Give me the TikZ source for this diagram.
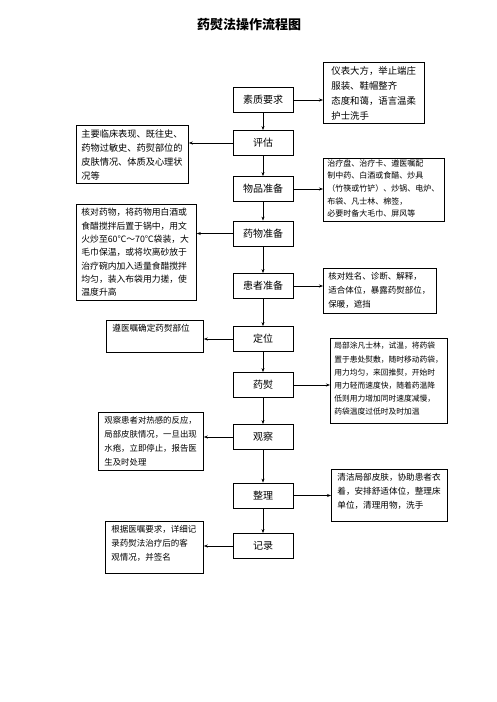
\documentclass[tikz,border=0pt]{standalone}
\usepackage{fontspec}
\newfontfamily\cjk{Noto Sans CJK SC}
\usetikzlibrary{arrows.meta}
\newcommand\stxt[5]{\parbox[c][#2][t]{#1}{\raggedright\fontsize{#3}{#4}\selectfont #5}}
\begin{document}
\begin{tikzpicture}[x=1pt,y=-1pt,
  every node/.style={font=\cjk},
  mainbox/.style={draw, line width=0.8pt, minimum width=60pt, minimum height=25pt, inner sep=0pt, font=\cjk\fontsize{10}{12}\selectfont},
  side/.style={draw, line width=0.8pt, inner xsep=5pt, inner ysep=4pt, anchor=north west, align=left},
  arr/.style={line width=0.8pt, -{Stealth[length=4pt,width=3pt]}}]
\useasboundingbox (0,0) rectangle (496,702);

\node (title) at (249,25) {\cjk\bfseries\fontsize{13}{15}\selectfont 药熨法操作流程图};

% main column
\node[mainbox] (q)  at (263,100)   {素质要求};
\node[mainbox] (pg) at (263,143)   {评估};
\node[mainbox] (wp) at (263,189)   {物品准备};
\node[mainbox] (yw) at (263,233.5) {药物准备};
\node[mainbox] (hz) at (263,286)   {患者准备};
\node[mainbox] (dw) at (263,339)   {定位};
\node[mainbox] (yy) at (263,385)   {药熨};
\node[mainbox] (gc) at (263,437)   {观察};
\node[mainbox] (zl) at (263,495.5) {整理};
\node[mainbox] (jl) at (263,546)   {记录};

% side boxes
\node[side, inner xsep=8pt] (r1) at (323,62) {\stxt{85pt}{53pt}{9.4}{15}{仪表大方，举止端庄\\服装、鞋帽整齐\\态度和蔼，语言温柔\\护士洗手}};
\node[side] (l1) at (76,125) {\stxt{102pt}{50pt}{9.2}{14}{主要临床表现、既往史、\\药物过敏史、药熨部位的\\皮肤情况、体质及心理状\\况等}};
\node[side, inner xsep=4pt, inner ysep=1pt] (r2) at (323,158) {\stxt{113pt}{61pt}{8}{12.6}{治疗盘、治疗卡、遵医嘱配\\制中药、白酒或食醋、炒具\\（竹筷或竹铲）、炒锅、电炉、\\布袋、凡士林、棉签，\\必要时备大毛巾、屏风等}};
\node[side] (l2) at (76,204) {\stxt{110pt}{88pt}{8.8}{13.3}{核对药物，将药物用白酒或\\食醋搅拌后置于锅中，用文\\火炒至60℃～70℃袋装，大\\毛巾保温，或将坎离砂放于\\治疗碗内加入适量食醋搅拌\\均匀，装入布袋用力搓，使\\温度升高}};
\node[side] (r3) at (323,268) {\stxt{103pt}{37pt}{8.5}{14}{核对姓名、诊断、解释，\\适合体位，暴露药熨部位，\\保暖，遮挡}};
\node[side, inner xsep=6pt] (l3) at (106,320) {\stxt{85pt}{24pt}{8.6}{14}{遵医嘱确定药熨部位}};
\node[side, inner xsep=4pt] (r4) at (330,338) {\stxt{109pt}{77pt}{7.75}{13.2}{局部涂凡士林，试温，将药袋\\置于患处熨敷，随时移动药袋，\\用力均匀，来回推熨，开始时\\用力轻而速度快，随着药温降\\低则用力增加同时速度减慢，\\药袋温度过低时及时加温}};
\node[side, inner xsep=6pt] (l4) at (98,412) {\stxt{93pt}{50pt}{8.4}{14}{观察患者对热感的反应，\\局部皮肤情况，一旦出现\\水疱，立即停止，报告医\\生及时处理}};
\node[side, inner xsep=6pt] (r5) at (331,469) {\stxt{104pt}{44pt}{8.6}{14}{清洁局部皮肤，协助患者衣\\着，安排舒适体位，整理床\\单位，清理用物，洗手}};
\node[side, inner xsep=6pt] (l5) at (105,521) {\stxt{86pt}{44pt}{8.5}{14}{根据医嘱要求，详细记\\录药熨法治疗后的客\\观情况，并签名}};

% vertical arrows
\draw[arr] (q.south)  -- (pg.north);
\draw[arr] (pg.south) -- (wp.north);
\draw[arr] (wp.south) -- (yw.north);
\draw[arr] (yw.south) -- (hz.north);
\draw[arr] (hz.south) -- (dw.north);
\draw[arr] (dw.south) -- (yy.north);
\draw[arr] (yy.south) -- (gc.north);
\draw[arr] (gc.south) -- (zl.north);
\draw[arr] (zl.south) -- (jl.north);

% horizontal arrows
\draw[arr] (q.east)  -- (q.east -| r1.west);
\draw[arr] (pg.west) -- (pg.west -| l1.east);
\draw[arr] (wp.east) -- (wp.east -| r2.west);
\draw[arr] (yw.west) -- (yw.west -| l2.east);
\draw[arr] (hz.east) -- (hz.east -| r3.west);
\draw[arr] (dw.west) -- (dw.west -| l3.east);
\draw[arr] (yy.east) -- (yy.east -| r4.west);
\draw[arr] (gc.west) -- (gc.west -| l4.east);
\draw[arr] (zl.east) -- (zl.east -| r5.west);
\draw[arr] (jl.west) -- (jl.west -| l5.east);
\end{tikzpicture}
\end{document}
